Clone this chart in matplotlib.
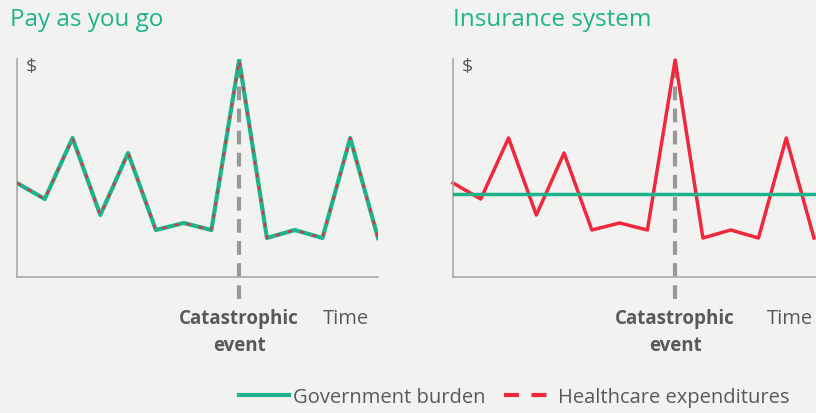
import matplotlib.pyplot as plt
from matplotlib.lines import Line2D

# spending per period (arbitrary $ units)
periods = list(range(14))
healthcare = [94, 78, 139, 62, 124, 47, 54, 47, 217, 39, 47, 39, 139, 39]
insurance_burden = 83
event_idx = 8

titles = ["Pay as you go", "Insurance system"]
green = "#1db48c"
red = "#f0283c"
grey_txt = "#595959"
bg = "#f2f2f0"

plt.rcParams['font.family'] = ['Open Sans', 'DejaVu Sans']

fig = plt.figure(figsize=(8.16, 4.14), dpi=100, facecolor=bg)
W, H = 816, 414

# axes boxes in pixels: left, right, top, bottom
boxes = [(17, 378, 60, 278), (453, 816, 60, 278)]
time_x = [11.0, 11.3]
axes = []
for (l, r, t, b) in boxes:
    ax = fig.add_axes([l / W, 1 - b / H, (r - l) / W, (b - t) / H])
    ax.set_facecolor(bg)
    for s in ['top', 'right']:
        ax.spines[s].set_visible(False)
    for s in ['left', 'bottom']:
        ax.spines[s].set_color('#aaaaaa')
        ax.spines[s].set_linewidth(1.2)
    ax.set_xticks([])
    ax.set_yticks([])
    ax.set_ylim(0, 218)
    axes.append(ax)

axes[0].set_xlim(0, 13)
axes[1].set_xlim(0, 13 * 363 / 361)

# pay as you go: government pays everything
ax = axes[0]
ax.plot([event_idx, event_idx], [-22, 212], color='#999999', lw=3,
        ls=(0, (3.3, 2)), clip_on=False, zorder=1)
ax.plot(periods, healthcare, color=green, lw=3, zorder=2)
ax.plot(periods, healthcare, color=red, lw=1.5, ls=(0, (2, 4)), zorder=3)

# insurance system: flat burden
ax = axes[1]
ax.plot([event_idx, event_idx], [-22, 212], color='#999999', lw=3,
        ls=(0, (3.3, 2)), clip_on=False, zorder=1)
ax.plot(periods, healthcare, color=red, lw=2.5, zorder=2, clip_on=False)
ax.axhline(insurance_burden, color=green, lw=2.5, zorder=3)

for ax, tx in zip(axes, time_x):
    ax.text(0.025, 1.01, "$", transform=ax.transAxes, fontsize=14,
            color=grey_txt, va='top', ha='left')
    ax.text(event_idx, -31, "Catastrophic\nevent", fontsize=13.5,
            fontweight='bold', color=grey_txt, ha='center', va='top',
            linespacing=1.45)
    ax.text(tx, -31, "Time", fontsize=14.5, color=grey_txt,
            ha='left', va='top')

fig.text(10 / W, 1 - 20 / H, titles[0], fontsize=17.5, color=green, va='center', ha='left')
fig.text(453 / W, 1 - 20 / H, titles[1], fontsize=17.5, color=green, va='center', ha='left')

handles = [Line2D([], [], color=green, lw=3),
           Line2D([], [], color=red, lw=3, ls=(0, (3.6, 3.0)))]
fig.legend(handles, ["Government burden", "Healthcare expenditures"],
           loc='center', bbox_to_anchor=(514 / W, 1 - 398 / H), ncol=2,
           frameon=False, fontsize=14.5, handlelength=2.5, handletextpad=0.2,
           columnspacing=0.9, labelcolor=grey_txt)

fig.savefig("out.png", dpi=100, facecolor=bg)
